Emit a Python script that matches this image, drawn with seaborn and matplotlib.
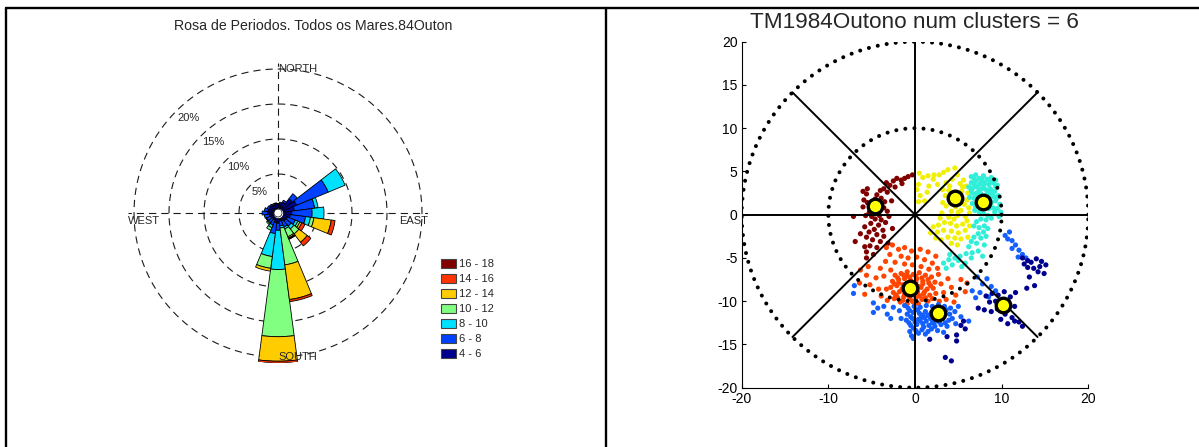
import numpy as np
import pandas as pd
import matplotlib
matplotlib.use('Agg')
import matplotlib.pyplot as plt
import seaborn as sns
from matplotlib.patches import Patch
from matplotlib.lines import Line2D

# ---- wind rose data (percent per 15 deg sector, compass directions) ----
directions = np.arange(0, 360, 15)
p4_6 = [0.7, 0.8, 1.1, 2.0, 2.3, 1.8, 1.4, 1.2, 0.9, 0.8, 0.7, 0.6,
        0.9, 0.8, 0.5, 0.5, 0.6, 0.7, 0.9, 0.9, 0.8, 0.8, 0.7, 0.8]
p6_8 = [0.1, 0.2, 0.3, 0.9, 4.9, 2.9, 2.9, 2.2, 1.2, 1.0, 0.9, 0.7,
        1.0, 1.6, 0.8, 0.6, 0.6, 0.7, 0.8, 0.5, 0.3, 0.2, 0.2, 0.1]
p8_10 = [0, 0, 0, 0, 2.6, 0.5, 1.7, 0.7, 0.4, 0.5, 0.3, 0.3,
         5.6, 3.3, 0.4, 0.2, 0.1, 0, 0, 0, 0, 0, 0, 0]
p10_12 = [0, 0, 0, 0, 0, 0, 0, 0.5, 0.3, 0.9, 1.2, 5.3,
          9.6, 1.7, 0.4, 0.2, 0, 0, 0, 0, 0, 0, 0, 0]
p12_14 = [0, 0, 0, 0, 0, 0, 0, 2.5, 0.3, 1.5, 0.2, 5.0,
          3.5, 0.4, 0, 0, 0, 0, 0, 0, 0, 0, 0, 0]
p14_16 = [0, 0, 0, 0, 0, 0, 0, 0.55, 0.5, 0.65, 0.1, 0.3,
          0.3, 0, 0, 0, 0, 0, 0, 0, 0, 0, 0, 0]
p16_18 = [0, 0, 0, 0, 0, 0, 0, 0, 0, 0, 0.1, 0,
          0.05, 0, 0, 0, 0, 0, 0, 0, 0, 0, 0, 0]
bin_labels = ['4 - 6', '6 - 8', '8 - 10', '10 - 12', '12 - 14', '14 - 16', '16 - 18']
bin_colors = ['#00008F', '#0040FF', '#00E0FF', '#80FF80', '#FFCC00', '#FF3300', '#800000']
ring_levels = [5, 10, 15, 20]

# ---- cluster data ----
maroon_x = [-0.3, -0.8, -1.2, -1.6, -2.1, -1.5, -2.5, -2.9, -3.3, -2.3, -3.6, -4.0, -3.2, -4.4,
            -5.5, -5.6, -5.9, -5.5, -6.0, -5.2, -4.6, -3.9, -4.0, -3.6, -3.2, -4.3, -5.0, -5.7,
            -4.6, -3.9, -3.4, -4.2, -5.1, -5.8, -4.7, -3.7, -5.3, -4.4, -3.6, -5.6, -4.9, -4.0,
            -3.1, -5.2, -4.4, -5.6, -4.8, -5.6, -7.1, -6.9, -6.3, -2.7, -2.6, -3.0, -6.0, -5.8,
            -4.9, -5.3, -4.1, -3.5]
maroon_y = [4.6, 4.4, 4.2, 4.0, 4.2, 3.6, 3.9, 3.4, 3.7, 3.2, 3.0, 2.8, 2.6, 2.3,
            3.0, 2.4, 1.7, 1.4, 0.9, 0.6, 1.8, 1.9, 1.2, 0.8, 0.4, 0.2, -0.2, -0.1,
            -0.5, -0.6, -0.9, -1.2, -1.0, -1.4, -1.7, -1.8, -2.0, -2.3, -2.5, -2.6, -2.9, -3.1,
            -3.3, -3.6, -3.8, -4.3, -4.6, -5.0, -0.2, -3.1, -2.2, 1.6, -1.6, -0.2, 2.7, -3.7,
            1.3, 0.2, -0.1, 1.5]

yellow_x = [0.5, 0.9, 1.5, 2.1, 2.8, 3.3, 3.8, 4.6, 4.9, 4.3, 3.6, 2.6, 1.6, 0.4, 0.2, 0.6,
            1.1, 0.4, 3.2, 3.9, 5.2, 5.6, 5.9, 5.4, 6.1, 6.0, 5.7, 6.2, 5.3, 4.7, 4.2, 3.6,
            3.2, 3.5, 3.1, 6.3, 5.8, 4.9, 6.0, 5.5, 4.8, 4.1, 3.4, 2.7, 2.1, 1.8, 2.6, 3.3,
            4.2, 5.0, 5.8, 6.1, 5.3, 4.6, 3.8, 3.0, 4.2, 4.9, 2.4, 6.3, 4.4, 5.0,
            4.3, 4.7, 5.1, 5.5, 4.0, 5.0, 3.9, 4.5, 2.9, 1.4, 2.2]
yellow_y = [4.8, 4.3, 4.5, 4.1, 4.6, 4.9, 5.2, 5.4, 4.6, 4.1, 3.7, 3.5, 3.3, 3.5, 2.9, 2.2,
            1.6, 1.5, 2.9, 2.8, 3.6, 4.0, 3.3, 2.7, 2.5, 1.7, 1.2, 0.8, 0.5, 0.9, 0.4, 1.0,
            1.4, 2.2, 0.2, 0.2, -0.2, -0.1, -0.7, -1.1, -1.3, -1.0, -0.9, -1.2, -1.4, -2.1, -2.0, -1.8,
            -1.9, -2.1, -1.8, -2.6, -2.8, -2.7, -2.6, -2.9, -3.3, -3.5, -2.7, -1.3, 2.4, 1.6,
            2.0, 2.6, 1.8, 3.2, 3.3, 0.3, -0.3, -0.5, -0.4, 2.6, 4.6]

cyan_x = [6.5, 7.0, 7.4, 7.9, 8.3, 8.8, 9.3, 9.5, 9.0, 8.5, 8.0, 7.5, 7.0, 6.5, 6.2, 6.7,
          7.2, 7.7, 8.2, 8.7, 9.2, 9.6, 9.1, 8.6, 8.1, 7.6, 7.1, 6.6, 6.3, 6.8, 7.3, 7.8,
          8.3, 8.8, 9.3, 9.8, 9.5, 9.9, 9.0, 8.5, 8.0, 7.5, 7.0, 6.6, 6.9, 7.4, 7.9, 8.4,
          8.8, 8.2, 7.6, 7.1, 6.8, 7.4, 8.0, 8.4, 7.9, 7.3, 6.8, 7.6, 8.2, 6.5, 7.1, 8.0,
          6.2, 7.3, 6.6, 5.9, 5.2, 4.6, 3.9, 3.3, 4.3, 5.0, 5.8, 3.6, 6.5, 7.8, 5.4, 4.0,
          8.7, 9.7,
          6.8, 7.7, 8.6, 9.3, 6.9, 7.9, 8.9, 6.5, 7.4, 8.4, 7.0, 8.0, 9.4, 7.6, 8.6, 9.2, 7.0]
cyan_y = [4.4, 4.6, 4.2, 4.5, 4.1, 4.3, 4.0, 3.4, 3.7, 3.5, 3.7, 3.6, 3.9, 3.7, 3.2, 3.1,
          3.2, 3.0, 2.9, 3.0, 2.7, 2.2, 2.1, 2.3, 2.2, 2.4, 2.5, 2.5, 2.0, 1.9, 1.7, 1.6,
          1.5, 1.4, 1.6, 1.2, 0.7, 0.3, 0.8, 0.7, 0.9, 1.1, 1.2, 1.3, 0.5, 0.3, 0.1, -0.1,
          -0.4, -0.6, -0.5, -0.8, -1.3, -1.5, -1.3, -1.6, -2.0, -2.2, -2.6, -2.7, -2.5, -3.1, -3.3, -3.5,
          -3.7, -4.2, -4.4, -4.5, -4.8, -5.0, -5.2, -5.6, -5.8, -5.3, -5.6, -6.2, -5.0, -4.8, -6.0, -4.6,
          1.9, -0.2,
          4.2, 4.1, 4.0, 3.3, 3.5, 3.3, 2.6, 2.8, 2.8, 2.6, 2.1, 1.9, 1.9, 1.3, 1.1, 0.3, 0.9]

orange_x = [-3.3, -2.6, -1.9, -1.2, -0.4, 0.6, 1.5, 2.4, -2.9, -1.6, -0.8, 0.2, 1.1, 2.0,
            -3.4, -2.3, -1.2, -0.3, 0.7, 1.6, 2.6, -4.0, -2.8, -5.4, -6.3, -5.6, -4.5, -6.4,
            -5.2, -4.2, -5.8, -3.9, -3.2, -2.4,
            -2.3, -1.6, -0.9, -0.2, 0.5, 1.2, 1.9, -2.6, -1.9, -1.2, -0.5, 0.2, 0.9, 1.6, 2.3,
            -2.8, -2.1, -1.4, -0.7, 0.0, 0.7, 1.4, 2.1, -2.5, -1.8, -1.1, -0.4, 0.3, 1.0, 1.7,
            2.4, -2.0, -1.3, -0.6, 0.1, 0.8, 1.5, -1.7, -0.9, 0.4,
            -1.9, -1.5, -0.9, -0.4, 0.1, 0.5, -1.2, -0.2, 0.9, -2.2,
            2.7, 3.0, 3.3, 3.8, 4.2, 4.7, 5.3, 5.8, 6.0, 3.6, 4.5, 2.8, -3.3, -3.6,
            -2.0, -1.3, -0.6, 0.1, 0.8, 1.5, -2.4, -1.0, 0.4, 1.1, 1.8, -2.2, -0.8, 0.6,
            1.2, -0.3, 2.0, -1.4]
orange_y = [-3.8, -3.5, -4.0, -3.8, -4.2, -4.0, -4.3, -4.8, -4.6, -4.8, -5.0, -4.9, -5.2, -5.6,
            -5.4, -5.5, -5.7, -5.8, -6.0, -6.3, -6.2, -6.2, -6.4, -6.0, -6.4, -7.0, -7.3, -7.9,
            -8.1, -8.6, -9.2, -9.4, -9.9, -9.7,
            -7.0, -6.8, -6.6, -6.9, -6.7, -7.0, -7.2, -7.7, -7.5, -7.4, -7.6, -7.4, -7.7, -7.9, -7.8,
            -8.4, -8.2, -8.1, -8.3, -8.1, -8.4, -8.6, -8.5, -9.0, -8.9, -8.8, -9.0, -8.9, -9.1, -9.3,
            -9.1, -9.6, -9.5, -9.7, -9.6, -9.8, -10.0, -10.1, -10.3, -10.3,
            -7.9, -8.6, -7.1, -8.6, -7.8, -9.4, -9.2, -10.1, -8.0, -9.3,
            -6.9, -8.0, -9.0, -7.4, -8.4, -9.3, -7.5, -8.9, -7.9, -9.8, -10.1, -10.0, -8.6, -7.1,
            -7.3, -7.0, -7.2, -7.1, -7.3, -7.5, -8.0, -8.5, -8.3, -8.9, -8.2, -9.3, -9.3, -9.4,
            -9.6, -10.0, -9.7, -9.9]

blue_x = [-7.0, -7.1, -4.8, -4.3, -4.8, -3.6, -3.2, -2.5, -1.8, -2.8, -1.6, -1.2,
          -0.8, -0.1, 0.6, 1.3, 2.0, 2.7, 3.4, 4.1, -0.9, -0.2, 0.5, 1.2, 1.9, 2.6, 3.3, 4.0, 4.6,
          -1.0, -0.3, 0.4, 1.1, 1.8, 2.5, 3.2, 3.9, -0.5, 0.2, 0.9, 1.6, 2.3, 3.0, 3.7,
          -0.6, 0.1, 0.8, 1.5, -0.4, 2.6, 3.3,
          -0.5, 0.3, 1.6, 2.2, 0.0, 1.0, 1.9, 2.9, -0.2, 0.7,
          5.0, 5.3, 4.7, 6.2, 7.0, 7.5, 7.8, 8.3, 8.8, 9.3, 8.5, 6.6, 7.2,
          10.9, 10.7, 11.2, 11.6, 11.2, 12.0, 12.4, 11.9, 12.8, 10.4,
          -0.6, 0.1, 0.9, 1.5, 2.2, 2.9, 3.6, -0.7, 0.6, 1.3, 2.0, 2.8, 3.5, 4.3,
          0.4, 1.2, -0.2]
blue_y = [-8.2, -9.1, -10.2, -10.8, -11.3, -10.6, -11.5, -10.7, -11.1, -12.0, -12.0, -10.5,
          -10.8, -10.6, -10.7, -10.5, -10.6, -10.4, -10.6, -10.8, -11.5, -11.3, -11.4, -11.2, -11.3, -11.1, -11.3, -11.5, -11.2,
          -12.2, -12.0, -12.1, -11.9, -12.0, -12.2, -12.0, -12.2, -12.8, -12.7, -12.6, -12.8, -12.9, -12.7, -12.9,
          -13.5, -13.4, -13.3, -13.5, -14.0, -13.4, -13.6,
          -11.8, -11.0, -11.7, -12.5, -12.4, -13.0, -13.2, -11.7, -13.1, -11.9,
          -10.6, -11.8, -12.6, -12.3, -9.6, -9.0, -8.0, -7.4, -8.3, -8.8, -9.5, -8.8, -7.2,
          -2.0, -2.8, -3.0, -3.5, -3.9, -4.1, -4.6, -4.9, -5.0, -2.4,
          -11.1, -11.0, -11.6, -11.6, -11.6, -11.6, -11.0, -12.5, -12.3, -12.3, -12.5, -12.4, -12.5, -12.0,
          -13.7, -13.8, -14.3]

navy_x = [12.4, 13.0, 12.6, 13.4, 14.0, 14.6, 15.1, 14.4, 13.7, 13.0, 14.9, 13.2, 13.8, 12.9, 14.2,
          8.2, 8.9, 9.6, 10.3, 11.0, 11.6, 8.6, 9.3, 10.0, 10.8, 11.5, 8.0, 8.8, 9.5, 10.4,
          11.2, 9.9, 10.7, 12.0, 12.4, 11.5, 7.3,
          5.6, 5.3, 4.8, 4.8, 3.7, 1.7, 3.5, 4.2, 5.8]
navy_y = [-5.0, -5.3, -5.7, -5.5, -5.1, -5.4, -5.8, -6.0, -6.2, -6.1, -6.8, -7.2, -8.2, -8.5, -6.6,
          -9.4, -9.1, -9.3, -8.9, -9.5, -9.0, -10.1, -10.0, -9.9, -10.3, -10.6, -11.0, -11.2, -10.9, -11.5,
          -11.9, -12.1, -12.6, -12.4, -12.9, -12.3, -10.8,
          -12.3, -12.8, -13.9, -14.6, -14.1, -14.4, -16.5, -16.9, -13.2]

centroid_x = [-4.6, 4.6, 7.9, -0.6, 2.7, 10.1]
centroid_y = [1.0, 1.9, 1.5, -8.5, -11.4, -10.4]

cluster_colors = {'maroon': '#800000', 'yellow': '#F0F000', 'cyan': '#30EED8',
                  'orange': '#FF4500', 'blue': '#1460FF', 'navy': '#000090'}

sns.set_style('white')
plt.rcParams['font.family'] = ['Liberation Sans', 'DejaVu Sans']
plt.rcParams['axes.unicode_minus'] = False

W, H = 1199, 447
fig = plt.figure(figsize=(W / 100, H / 100), dpi=100)

# page frame lines
fig.add_artist(Line2D([6 / W, 1], [1 - 7.8 / H] * 2, color='black', lw=1.7, transform=fig.transFigure))
fig.add_artist(Line2D([6.2 / W] * 2, [0, 1 - 7.8 / H], color='black', lw=1.7, transform=fig.transFigure))
fig.add_artist(Line2D([606 / W] * 2, [0, 1 - 7.8 / H], color='black', lw=1.7, transform=fig.transFigure))

# ---- left: wind rose ----
cx, cy, rad = 278, 213, 150
px_per_pct = 7.0
r0 = 4 / px_per_pct
R = rad / px_per_pct
axr = fig.add_axes([(cx - rad) / W, (H - cy - rad) / H, 2 * rad / W, 2 * rad / H], projection='polar')
axr.set_theta_zero_location('N')
axr.set_theta_direction(-1)
axr.set_ylim(0, R)
axr.set_axis_off()

th = np.linspace(0, 2 * np.pi, 721)
dash = (0, (6.5, 4.5))
for p in ring_levels:
    axr.plot(th, np.full_like(th, r0 + p), color='#1a1a1a', lw=0.8, ls=dash, zorder=1)
for t in [0, 90, 180, 270]:
    axr.plot([np.deg2rad(t)] * 2, [0, R], color='#1a1a1a', lw=0.8, ls=dash, zorder=1)

theta = np.deg2rad(directions)
width = np.deg2rad(15)
bottom = np.full(len(directions), r0)
for vals, col in zip([p4_6, p6_8, p8_10, p10_12, p12_14, p14_16, p16_18], bin_colors):
    vals = np.array(vals, dtype=float)
    m = vals > 0
    axr.bar(theta[m], vals[m], width=width, bottom=bottom[m], color=col,
            edgecolor='black', linewidth=0.6, zorder=3)
    bottom = bottom + vals
axr.fill_between(th, 0, r0, color='white', zorder=4)
axr.plot(th, np.full_like(th, r0), color='black', lw=0.5, zorder=5)

axr.text(0, r0 + 20, 'NORTH', ha='left', va='center', fontsize=8, zorder=6)
axr.text(np.pi, r0 + 20, 'SOUTH', ha='left', va='center', fontsize=8, zorder=6)
axr.annotate('WEST', xy=(1.5 * np.pi, R), xytext=(0, -2), textcoords='offset points',
             ha='left', va='top', fontsize=8)
axr.annotate('EAST', xy=(0.5 * np.pi, R), xytext=(0, -2), textcoords='offset points',
             ha='right', va='top', fontsize=8)
for p in ring_levels:
    axr.annotate(f'{p}%', xy=(1.75 * np.pi, r0 + p), xytext=(1, -1), textcoords='offset points',
                 ha='left', va='top', fontsize=8)

fig.text(313 / W, 1 - 30 / H, 'Rosa de Periodos. Todos os Mares.84Outon',
         ha='center', va='baseline', fontsize=10.2)

handles = [Patch(facecolor=c, edgecolor='#444444', linewidth=0.8) for c in bin_colors[::-1]]
fig.legend(handles, bin_labels[::-1], loc='upper left', bbox_to_anchor=(441 / W, 1 - 259 / H),
           frameon=False, fontsize=8, handlelength=1.35, handleheight=0.9,
           handletextpad=0.25, labelspacing=0.41, borderpad=0, borderaxespad=0)

# ---- right: clusters ----
ax = fig.add_axes([741.7 / W, 1 - 387.7 / H, 346.6 / W, 346 / H])
frames = []
for name, xs, ys in [('maroon', maroon_x, maroon_y), ('yellow', yellow_x, yellow_y),
                     ('cyan', cyan_x, cyan_y), ('orange', orange_x, orange_y),
                     ('blue', blue_x, blue_y), ('navy', navy_x, navy_y)]:
    frames.append(pd.DataFrame({'x': xs, 'y': ys, 'cluster': name}))
df = pd.concat(frames, ignore_index=True)
sns.scatterplot(data=df, x='x', y='y', hue='cluster', palette=cluster_colors, s=14,
                linewidth=0, legend=False, ax=ax, zorder=2)

tc = np.linspace(0, 2 * np.pi, 600)
for rr in [10, 20]:
    ax.plot(rr * np.cos(tc), rr * np.sin(tc), color='black', lw=2.9,
            ls=(0, (0.01, 2.25)), dash_capstyle='round', zorder=3)
for ang in [0, 45, 90, 135]:
    a = np.deg2rad(ang)
    ax.plot([-20 * np.cos(a), 20 * np.cos(a)], [-20 * np.sin(a), 20 * np.sin(a)],
            color='black', lw=1.4, zorder=3)

sns.scatterplot(x=centroid_x, y=centroid_y, color='#FFFF00', edgecolor='black', s=110,
                linewidth=2.4, ax=ax, zorder=5)

ax.set_xlim(-20, 20)
ax.set_ylim(-20, 20)
ax.set_xticks([-20, -10, 0, 10, 20])
ax.set_yticks(np.arange(-20, 21, 5))
ax.set_xlabel('')
ax.set_ylabel('')
sns.despine(ax=ax)
for s in ['left', 'bottom']:
    ax.spines[s].set_color('black')
    ax.spines[s].set_linewidth(0.8)
ax.tick_params(direction='in', length=3, width=0.8, labelsize=10, pad=3,
               bottom=True, left=True, colors='black')
ax.patch.set_alpha(0)

fig.text(914 / W, 1 - 28.5 / H, 'TM1984Outono num clusters = 6', ha='center', va='baseline',
         fontsize=16.2)

fig.savefig('out.png', dpi=100)
